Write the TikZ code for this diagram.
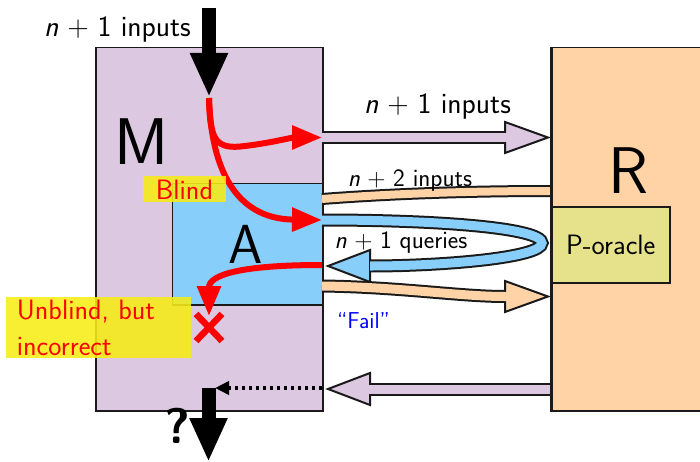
\documentclass[tikz,border=0pt]{standalone}
\usepackage{fontspec}
\renewcommand{\familydefault}{\sfdefault}
\usetikzlibrary{arrows.meta}
\definecolor{mfill}{HTML}{DCC8E0}
\definecolor{afill}{HTML}{87CEFA}
\definecolor{rfill}{HTML}{FFD3A6}
\definecolor{pfill}{HTML}{E6E28C}
\definecolor{ylab}{HTML}{F7EC16}
\definecolor{edge}{HTML}{1A1A1A}
\newcommand\npl[1]{\textit{n}\hspace{0.3em}+\hspace{0.3em}#1}
\begin{document}
\begin{tikzpicture}[x=1pt,y=-1pt,font=\sffamily,
  box/.style={draw=edge, line width=1.5pt, inner sep=0pt, anchor=north west},
  outerband/.style={line width=13pt, draw=edge},
  headshape/.style={draw=edge, line width=2pt, line join=miter},
  redarr/.style={draw=red, line width=6pt, -{Triangle[width=23pt,length=30pt]}},
  blackarr/.style={draw=black, line width=14pt, -{Triangle[width=35pt,length=44pt]}},
  big/.style={font=\sffamily\fontsize{28}{34}\selectfont},
  arrlab/.style={font=\sffamily\fontsize{29.5}{34}\selectfont},
  small/.style={font=\sffamily\fontsize{25}{30}\selectfont},
  ylabel/.style={fill=ylab, fill opacity=0.88, text opacity=1, text=red}]
\clip (0,0) rectangle (700,462);
% boxes
\node[box, fill=mfill, minimum width=227pt, minimum height=363pt] (M) at (95,47) {};
\node[box, fill=rfill, minimum width=170pt, minimum height=363pt] (R) at (551,47) {};
\node[box, fill=afill, minimum width=150.5pt, minimum height=121pt] (A) at (171.5,183) {};
\node[box, fill=pfill, minimum width=118pt, minimum height=76pt, big] (P) at (551,206) {P-oracle};
% big letters
\node[font=\sffamily\fontsize{66}{66}\selectfont] (Mlab) at (141.5,141.5) {M};
\node[font=\sffamily\fontsize{55}{55}\selectfont] (Alab) at (246,244) {A};
\node[font=\sffamily\fontsize{66}{66}\selectfont] (Rlab) at (628.5,171) {R};
% coordinates
\coordinate (u0) at (322,137.5);
\coordinate (u1) at (505,137.5);
\coordinate (b0) at (322,220);
\coordinate (b1) at (370,266);
\coordinate (q0) at (322,199);
\coordinate (q1) at (551,191);
\coordinate (l0) at (322,286);
\coordinate (l1) at (505,296.5);
\coordinate (r0) at (551,389);
\coordinate (r1) at (370,389);
% upper purple hollow arrow
\draw[outerband] (u0) -- (u1);
\draw[headshape, fill=mfill] (505,122) -- (548,137.5) -- (505,153) -- cycle;
\draw[line width=9pt, mfill] (u0) -- (508,137.5);
% n+2 band
\draw[line width=12pt, edge] (q0) .. controls (400,193) and (480,191) .. (q1);
\draw[line width=8pt, rfill] (q0) .. controls (400,193) and (480,191) .. (q1);
% blue loop
\draw[outerband] (b0) .. controls (440,220) and (542,228) .. (542,243) .. controls (542,258) and (440,266) .. (b1);
\draw[headshape, fill=afill] (370,250) -- (328,266) -- (370,282) -- cycle;
\draw[line width=9pt, afill] (b0) .. controls (440,220) and (542,228) .. (542,243) .. controls (542,258) and (440,266) .. (b1) -- (373,266);
% lower peach arrow
\draw[outerband] (l0) .. controls (400,287) and (460,296.5) .. (l1);
\draw[headshape, fill=rfill] (505,281) -- (548,296.5) -- (505,312) -- cycle;
\draw[line width=9pt, rfill] (l0) .. controls (400,287) and (460,296.5) .. (l1) -- (508,296.5);
% bottom purple arrow
\draw[outerband] (r0) -- (r1);
\draw[headshape, fill=mfill] (370,373) -- (328,389) -- (370,405) -- cycle;
\draw[line width=9pt, mfill] (r0) -- (367,389);
% redraw R border
\draw[edge, line width=1.5pt] (R.north west) -- (R.south west);
% dotted
\coordinate (d0) at (322,388);
\coordinate (d1) at (215,388);
\draw[line width=3.5pt, dash pattern=on 3.5pt off 3.5pt, -{Triangle[width=13pt,length=14pt]}] (d0) -- (d1);
% black arrows
\coordinate (t0) at (209,8);
\coordinate (t1) at (209,97);
\draw[blackarr] (t0) -- (t1);
\coordinate (o0) at (208.5,388);
\coordinate (o1) at (208.5,462);
\draw[blackarr] (o0) -- (o1);
% red arrows
\coordinate (s0) at (209,98);
\draw[redarr] (s0) .. controls (210,140) and (215,150) .. (245,146) .. controls (270,143) and (292,137.5) .. (u0);
\draw[redarr] (s0) .. controls (212,190) and (250,219) .. (b0);
\coordinate (e0) at (322,265);
\coordinate (e1) at (209,316);
\draw[redarr] (e0) .. controls (240,265) and (209,275) .. (e1);
\draw[red, line width=6.5pt] (196,314) -- (222,341) (196,341) -- (222,314);
% labels
\node[arrlab, anchor=base] (tin) at (117.5,37) {\npl{1} inputs};
\node[arrlab, anchor=base] (min) at (437.5,114) {\npl{1} inputs};
\node[small, anchor=base] (n2) at (410,186.5) {\npl{2} inputs};
\node[small, anchor=base] (nq) at (401,248) {\npl{1} queries};
\node[font=\sffamily\fontsize{23}{26}\selectfont, text=blue, anchor=base] (fail) at (363.5,328) {“Fail”};
\node[ylabel, big, anchor=base, minimum width=83pt, inner sep=1pt, text height=23pt, text depth=1pt] (blind) at (184.5,200) {Blind};
\node[ylabel, anchor=north west, inner xsep=10.7pt, inner ysep=2.8pt, text width=163.6pt, align=left, font=\sffamily\fontsize{28}{36}\selectfont] (unb) at (6,297) {Unblind, but\\incorrect};
\node[font=\sffamily\bfseries\fontsize{50}{50}\selectfont] (qm) at (177.5,425.5) {?};
\end{tikzpicture}
\end{document}
